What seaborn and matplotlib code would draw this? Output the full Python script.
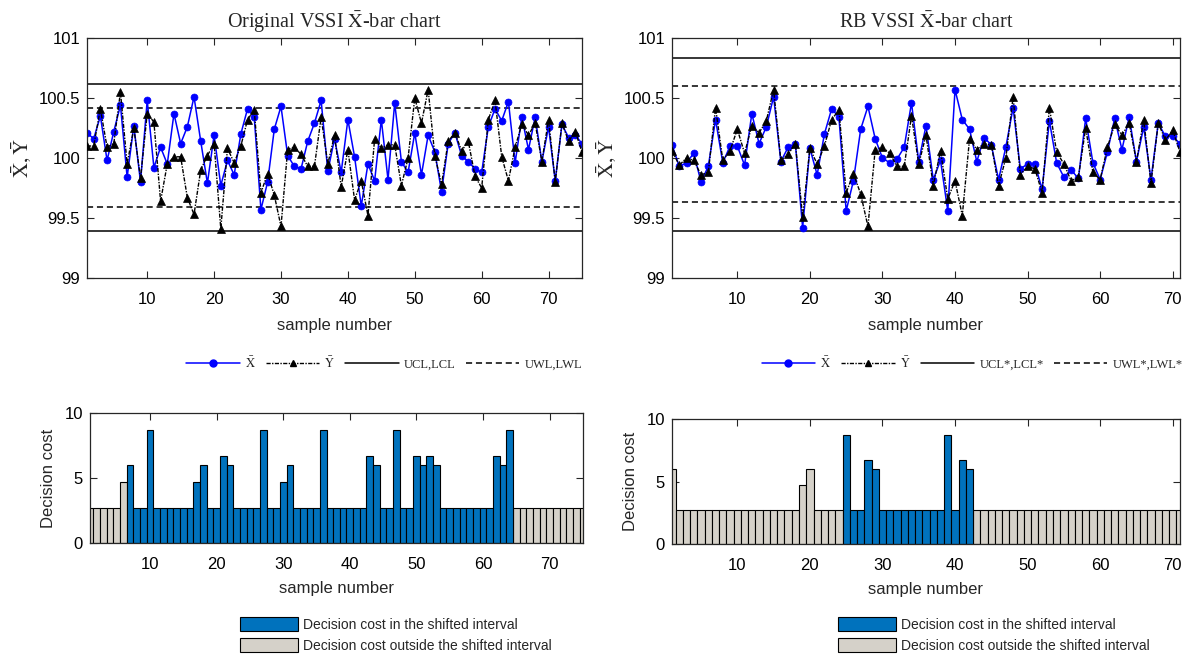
import numpy as np
import pandas as pd
import matplotlib
matplotlib.use("Agg")
import matplotlib.pyplot as plt
import seaborn as sns
from matplotlib.lines import Line2D
from matplotlib.patches import Patch

# ---------------- data ----------------
# Original VSSI chart: sample means of X and Y
orig_xbar = [100.21, 100.16, 100.35, 99.98, 100.22, 100.44, 99.84, 100.27, 99.80, 100.48,
             99.92, 100.09, 99.95, 100.37, 100.12, 100.26, 100.51, 100.14, 99.79, 100.19,
             99.77, 99.98, 99.86, 100.20, 100.41, 100.34, 99.57, 99.80, 100.24, 100.43,
             100.02, 99.93, 99.91, 100.14, 100.29, 100.48, 99.89, 100.16, 99.88, 100.32,
             100.01, 99.60, 99.95, 99.81, 100.32, 99.82, 100.46, 99.97, 99.88, 100.21,
             99.86, 100.19, 100.05, 99.72, 100.12, 100.21, 100.02, 99.97, 99.91, 99.88,
             100.26, 100.41, 100.31, 100.47, 99.96, 100.34, 100.07, 100.34, 99.97, 100.26,
             99.81, 100.28, 100.17, 100.19, 100.12]
orig_ybar = [100.10, 100.10, 100.41, 100.09, 100.12, 100.55, 99.95, 100.25, 99.83, 100.37,
             100.30, 99.64, 99.95, 100.01, 100.01, 99.67, 99.53, 99.90, 100.02, 100.12,
             99.41, 100.08, 99.96, 100.10, 100.32, 100.40, 99.71, 99.87, 99.69, 99.43,
             100.07, 100.09, 100.03, 99.93, 99.93, 100.34, 99.95, 100.19, 99.76, 100.07,
             99.65, 99.81, 99.52, 100.16, 100.08, 100.11, 100.11, 99.77, 100.00, 100.50,
             100.29, 100.57, 100.02, 99.78, 100.14, 100.21, 100.06, 100.14, 99.85, 99.75,
             100.32, 100.48, 100.01, 99.81, 100.09, 100.28, 100.19, 100.29, 99.97, 100.32,
             99.80, 100.29, 100.14, 100.22, 100.05]
orig_limits = {"UCL": 100.62, "UWL": 100.42, "LWL": 99.59, "LCL": 99.39}

# RB VSSI chart
rb_xbar = [100.11, 99.93, 99.96, 100.04, 99.80, 99.93, 100.32, 99.96, 100.10, 100.10,
           99.94, 100.37, 100.12, 100.26, 100.51, 99.97, 100.09, 100.12, 99.42, 100.08,
           99.86, 100.20, 100.41, 100.34, 99.56, 99.81, 100.24, 100.43, 100.16, 100.00,
           99.96, 99.99, 100.09, 100.46, 99.97, 100.27, 99.82, 99.98, 99.56, 100.57,
           100.32, 100.24, 99.97, 100.17, 100.11, 99.82, 100.09, 100.42, 99.91, 99.95,
           99.95, 99.74, 100.31, 99.96, 99.84, 99.90, 99.83, 100.33, 99.96, 99.82,
           100.05, 100.33, 100.07, 100.34, 99.97, 100.26, 99.82, 100.29, 100.18, 100.18,
           100.12]
rb_ybar = [100.06, 99.94, 100.00, 99.98, 99.86, 99.88, 100.42, 99.98, 100.06, 100.24,
           100.04, 100.27, 100.21, 100.31, 100.57, 99.98, 100.03, 100.12, 99.51, 100.08,
           99.95, 100.10, 100.32, 100.40, 99.71, 99.87, 99.70, 99.43, 100.07, 100.09,
           100.04, 99.93, 99.93, 100.35, 99.95, 100.19, 99.77, 100.06, 99.66, 99.81,
           99.52, 100.16, 100.07, 100.12, 100.11, 99.77, 100.00, 100.51, 99.86, 99.93,
           99.91, 99.71, 100.42, 100.05, 99.95, 99.81, 99.84, 100.25, 99.88, 99.82,
           100.09, 100.28, 100.19, 100.29, 99.97, 100.32, 99.79, 100.29, 100.15, 100.23,
           100.05]
rb_limits = {"UCL": 100.83, "UWL": 100.60, "LWL": 99.63, "LCL": 99.39}

# Decision cost per sample
orig_cost = [2.7, 2.7, 2.7, 2.7, 2.7, 4.7, 6.0, 2.7, 2.7, 8.7,
             2.7, 2.7, 2.7, 2.7, 2.7, 2.7, 4.7, 6.0, 2.7, 2.7,
             6.7, 6.0, 2.7, 2.7, 2.7, 2.7, 8.7, 2.7, 2.7, 4.7,
             6.0, 2.7, 2.7, 2.7, 2.7, 8.7, 2.7, 2.7, 2.7, 2.7,
             2.7, 2.7, 6.7, 6.0, 2.7, 2.7, 8.7, 2.7, 2.7, 6.7,
             6.0, 6.7, 6.0, 2.7, 2.7, 2.7, 2.7, 2.7, 2.7, 2.7,
             2.7, 6.7, 6.0, 8.7, 2.7, 2.7, 2.7, 2.7, 2.7, 2.7,
             2.7, 2.7, 2.7, 2.7, 2.7]
rb_cost = [6.0, 2.7, 2.7, 2.7, 2.7, 2.7, 2.7, 2.7, 2.7, 2.7,
           2.7, 2.7, 2.7, 2.7, 2.7, 2.7, 2.7, 2.7, 4.7, 6.0,
           2.7, 2.7, 2.7, 2.7, 8.7, 2.7, 2.7, 6.7, 6.0, 2.7,
           2.7, 2.7, 2.7, 2.7, 2.7, 2.7, 2.7, 2.7, 8.7, 2.7,
           6.7, 6.0, 2.7, 2.7, 2.7, 2.7, 2.7, 2.7, 2.7, 2.7,
           2.7, 2.7, 2.7, 2.7, 2.7, 2.7, 2.7, 2.7, 2.7, 2.7,
           2.7, 2.7, 2.7, 2.7, 2.7, 2.7, 2.7, 2.7, 2.7, 2.7,
           2.7]
# first and last sample of the shifted interval
orig_shift = (7, 64)
rb_shift = (25, 42)

x_ticks = [10, 20, 30, 40, 50, 60, 70]
y_ticks = [99, 99.5, 100, 100.5, 101]
y_tick_labels = ["99", "99.5", "100", "100.5", "101"]
cost_ticks = [0, 5, 10]

# ---------------- style ----------------
sns.set_style("ticks")
plt.rcParams.update({
    "font.family": ["Liberation Sans", "DejaVu Sans"],
    "mathtext.fontset": "stix",
    "axes.edgecolor": "#262626",
    "axes.linewidth": 0.9,
    "xtick.color": "#262626",
    "ytick.color": "#262626",
    "xtick.labelcolor": "black",
    "ytick.labelcolor": "black",
})
SERIF = ["Liberation Serif", "DejaVu Serif"]
BLUE_LINE = "#0000FF"
BAR_IN = "#0072BD"
BAR_OUT = "#D5D1C9"
Y_DASH = (0, (3, 1, 1, 1))

W, H = 1184, 655
fig = plt.figure(figsize=(W / 100, H / 100), dpi=100)
fig.patch.set_facecolor("white")


def axes_px(left, top, right, bottom):
    return fig.add_axes([left / W, 1 - bottom / H, (right - left) / W, (bottom - top) / H])


def style_axes(ax):
    ax.tick_params(direction="in", top=True, right=True, length=5, width=0.8,
                   labelsize=12)
    ax.tick_params(axis="x", pad=10)
    ax.tick_params(axis="y", pad=5)
    for s in ax.spines.values():
        s.set_visible(True)


def control_chart(ax, xbar, ybar, limits, title):
    n = len(xbar)
    df = pd.DataFrame({"sample": np.arange(1, n + 1), "xbar": xbar, "ybar": ybar})
    for key in ("UCL", "LCL"):
        ax.axhline(limits[key], color="black", lw=1.1, zorder=1)
    for key in ("UWL", "LWL"):
        ax.axhline(limits[key], color="black", lw=1.1, ls=(0, (4, 2.5)), zorder=1)
    sns.lineplot(data=df, x="sample", y="xbar", ax=ax, color=BLUE_LINE, lw=1.1,
                 marker="o", markersize=5, markeredgecolor=BLUE_LINE,
                 markeredgewidth=0.5, zorder=2)
    sns.lineplot(data=df, x="sample", y="ybar", ax=ax, color="black", lw=1.0,
                 ls=Y_DASH, marker="^", markersize=5.5,
                 markeredgecolor="black", markeredgewidth=0.5, zorder=3)
    ax.set_xlim(1, n)
    ax.set_ylim(99, 101)
    ax.set_yticks(y_ticks)
    ax.set_yticklabels(y_tick_labels)
    ax.set_xticks(x_ticks)
    style_axes(ax)
    ax.set_xlabel("sample number", fontsize=12, labelpad=8)
    ax.set_ylabel(r"$\bar{\mathrm{X}}, \bar{\mathrm{Y}}$", fontsize=15, family=SERIF,
                  labelpad=4)
    ax.set_title(title, fontsize=14.5, family=SERIF, pad=7)


def cost_chart(ax, costs, shift):
    n = len(costs)
    df = pd.DataFrame({"sample": np.arange(1, n + 1), "cost": costs})
    inside = (df["sample"] >= shift[0]) & (df["sample"] <= shift[1])
    df["zone"] = np.where(inside, "in", "out")
    sns.barplot(data=df, x="sample", y="cost", hue="zone",
                palette={"in": BAR_IN, "out": BAR_OUT}, native_scale=True,
                width=1, dodge=False, saturation=1, edgecolor="black",
                linewidth=0.8, errorbar=None, legend=False, ax=ax)
    ax.set_xlim(1, n)
    ax.set_ylim(0, 10)
    ax.set_yticks(cost_ticks)
    ax.set_xticks(x_ticks)
    ax.set_xticklabels([str(t) for t in x_ticks])
    style_axes(ax)
    ax.set_xlabel("sample number", fontsize=12, labelpad=6.5)
    ax.set_ylabel("Decision cost", fontsize=12, labelpad=6.5)


ax_tl = axes_px(87, 38, 582, 278)
ax_tr = axes_px(672, 38, 1180, 278)
ax_bl = axes_px(90, 413, 583, 543)
ax_br = axes_px(672, 419, 1180, 544)

control_chart(ax_tl, orig_xbar, orig_ybar, orig_limits,
              r"Original VSSI $\bar{\mathrm{X}}$-bar chart")
control_chart(ax_tr, rb_xbar, rb_ybar, rb_limits,
              r"RB VSSI $\bar{\mathrm{X}}$-bar chart")
cost_chart(ax_bl, orig_cost, orig_shift)
cost_chart(ax_br, rb_cost, rb_shift)


def line_legend(ax, lim_labels, cx):
    handles = [
        Line2D([], [], color=BLUE_LINE, lw=1.1, marker="o", markersize=5),
        Line2D([], [], color="black", lw=1.0, ls=Y_DASH, marker="^", markersize=5),
        Line2D([], [], color="black", lw=1.1),
        Line2D([], [], color="black", lw=1.1, ls=(0, (4, 2.5))),
    ]
    labels = [r"$\bar{\mathrm{X}}$", r"$\bar{\mathrm{Y}}$"] + lim_labels
    ax.legend(handles, labels, loc="center", bbox_to_anchor=(cx / W, 1 - 363 / H),
              bbox_transform=fig.transFigure, ncol=4, frameon=False,
              prop={"family": SERIF, "size": 9}, handlelength=4.3,
              handletextpad=0.4, columnspacing=0.8, borderpad=0)


def cost_legend(ax, left_px):
    handles = [Patch(facecolor=BAR_IN, edgecolor="black", lw=0.8),
               Patch(facecolor=BAR_OUT, edgecolor="black", lw=0.8)]
    labels = ["Decision cost in the shifted interval",
              "Decision cost outside the shifted interval"]
    ax.legend(handles, labels, loc="center left",
              bbox_to_anchor=(left_px / W, 1 - 635 / H),
              bbox_transform=fig.transFigure, frameon=False, fontsize=10,
              handlelength=4.2, handleheight=1.2, handletextpad=0.35,
              labelspacing=0.45, borderpad=0, borderaxespad=0)


line_legend(ax_tl, ["UCL,LCL", "UWL,LWL"], 384)
line_legend(ax_tr, ["UCL*,LCL*", "UWL*,LWL*"], 972)
cost_legend(ax_bl, 240)
cost_legend(ax_br, 838)

fig.savefig("out.png", dpi=100, facecolor="white")
